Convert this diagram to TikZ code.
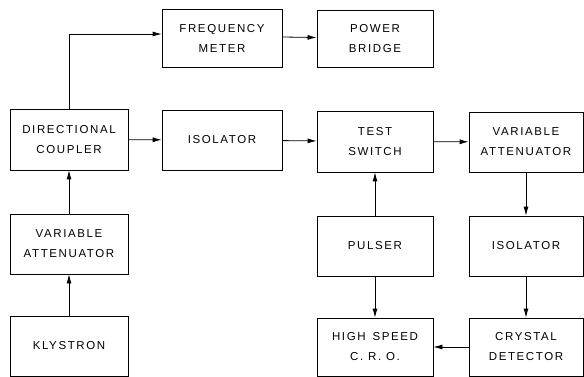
\documentclass[tikz,border=0pt]{standalone}
\usepackage{fontspec}
\setmainfont{Liberation Sans}[LetterSpace=14]
\usetikzlibrary{arrows.meta}

\begin{document}
\begin{tikzpicture}[x=1pt, y=-1pt, line width=0.8pt,
    every node/.style={font=\fontsize{11.5}{20}\selectfont},
    blk/.style={draw, align=center, minimum width=118pt, minimum height=60pt, inner sep=0pt},
    sig/.style={-{Latex[length=9pt,width=5pt]}}]
  \useasboundingbox (0,0) rectangle (584,377);
  % top row
  \node[blk, minimum width=120pt, minimum height=58pt] (freq) at (222,38) {FREQUENCY\\METER};
  \node[blk, minimum width=116pt, minimum height=57pt] (bridge) at (375,38.5) {POWER\\BRIDGE};
  % main line
  \node[blk, minimum height=61pt] (coupler) at (69,139.5) {DIRECTIONAL\\COUPLER};
  \node[blk, minimum width=120pt] (isoA) at (222,140) {ISOLATOR};
  \node[blk, minimum width=116pt, minimum height=61pt] (switch) at (375,141.5) {TEST\\SWITCH};
  \node[blk, minimum width=114pt] (attB) at (526,142) {VARIABLE\\ATTENUATOR};
  % lower rows
  \node[blk] (attA) at (69,244) {VARIABLE\\ATTENUATOR};
  \node[blk] (klystron) at (69,346) {KLYSTRON};
  \node[blk, minimum width=116pt] (pulser) at (375,246) {PULSER};
  \node[blk, minimum width=114pt] (isoB) at (526,246) {ISOLATOR};
  \node[blk, minimum width=116pt, minimum height=58pt] (cro) at (375,347) {HIGH\hspace{0.6em}SPEED\\C. R. O.};
  \node[blk, minimum width=114pt, minimum height=58pt] (detector) at (526,347) {CRYSTAL\\DETECTOR};

  \draw[sig] (klystron) -- (attA);
  \draw[sig] (attA) -- (coupler);
  \draw[sig] (coupler.north) |- ([yshift=4pt]freq.west);
  \draw[sig] ([yshift=1pt]freq.east) -- ([yshift=1pt]bridge.west);
  \draw[sig] (coupler) -- (isoA);
  \draw[sig] (isoA) -- (switch);
  \draw[sig] (switch) -- (attB);
  \draw[sig] (attB) -- (isoB);
  \draw[sig] (isoB) -- (detector);
  \draw[sig] (pulser) -- (switch);
  \draw[sig] (pulser) -- (cro);
  \draw[sig] (detector) -- (cro);
\end{tikzpicture}
\end{document}
